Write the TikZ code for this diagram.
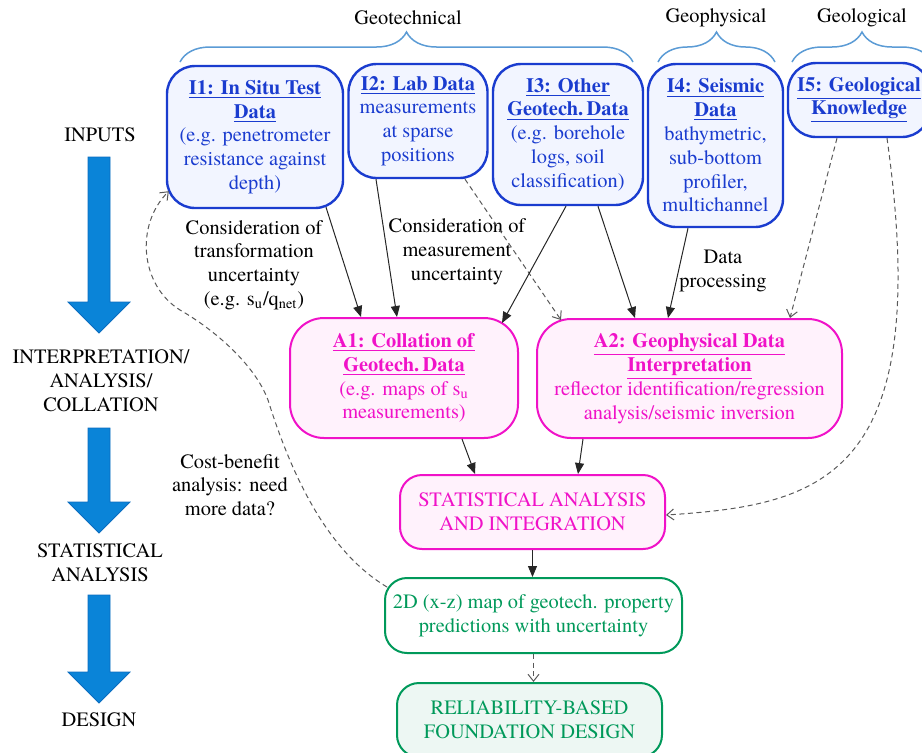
\documentclass[tikz,border=0pt]{standalone}
\usepackage{fontspec}
\setmainfont{TeX Gyre Termes}
\usetikzlibrary{arrows.meta,calc,decorations.pathreplacing}
\definecolor{iblue}{HTML}{1A3CCF}
\definecolor{ifill}{HTML}{F2F5FF}
\definecolor{amag}{HTML}{F012C8}
\definecolor{afill}{HTML}{FFF2FC}
\definecolor{sgreen}{HTML}{00995A}
\definecolor{gfill}{HTML}{EDF7F3}
\definecolor{bracec}{HTML}{5B9BD5}
\definecolor{bigblue}{HTML}{0A84D8}
\definecolor{bigedge}{HTML}{0A6CBF}
\newcommand\hd[1]{\underline{\textbf{#1}}}
\newcommand\flowarrow[3]{%
  \filldraw[bigarrow] (88,#1) -- (110,#1) -- (110,#2) -- (130,#2) -- (99,#3) -- (68,#2) -- (88,#2) -- cycle;}
\begin{document}
\begin{tikzpicture}[x=0.5pt,y=-0.5pt,
  every node/.style={font=\rmfamily\fontsize{10.2}{11.9}\selectfont, align=center, inner sep=0pt},
  ibox/.style={draw=iblue, fill=ifill, text=iblue, line width=1.2pt, rounded corners=14pt},
  abox/.style={draw=amag, fill=afill, text=amag, line width=1pt, rounded corners=17pt},
  sbox/.style={draw=amag, fill=afill, text=amag, line width=1pt, rounded corners=11pt},
  gbox/.style={draw=sgreen, fill=white, text=sgreen, line width=1pt, rounded corners=11pt},
  rbox/.style={draw=sgreen, fill=gfill, text=sgreen, line width=1pt, rounded corners=11pt},
  flow/.style={draw=black!85, line width=0.5pt, -{Triangle[length=5.5pt,width=4.5pt]}},
  dflow/.style={draw=black!65, line width=0.5pt, dash pattern=on 2.5pt off 1.8pt, -{Straight Barb[length=3.5pt,width=5.5pt]}},
  bracedec/.style={draw=bracec, line width=0.75pt, decorate, decoration={brace, amplitude=15pt}},
  bigarrow/.style={fill=bigblue, draw=bigedge, line width=0.4pt},
  lbl/.style={text=black}]
\useasboundingbox (0,0) rectangle (922,752);

% braces and group labels
\draw[bracedec] (180,62) -- (633,62);
\draw[bracedec] (658,62) -- (775,62);
\draw[bracedec] (792,62) -- (932,62);
\node[lbl] (gtech) at (408,18) {Geotechnical};
\node[lbl] (gphys) at (716,18) {Geophysical};
\node[lbl] (glog) at (862,18) {Geological};

% left stage column
\node[lbl] (sIn) at (100,135) {INPUTS};
\node[lbl] (sInt) at (101,381) {INTERPRETATION/\\ANALYSIS/\\COLLATION};
\node[lbl] (sStat) at (100,563) {STATISTICAL\\ANALYSIS};
\node[lbl] (sDes) at (99,720) {DESIGN};
\flowarrow{157}{302}{333}
\flowarrow{428}{502}{533}
\flowarrow{595}{672}{703}

% input boxes
\node[ibox, minimum width=88pt, minimum height=71pt] (I1) at (255,137)
  {\hd{I1: In Situ Test}\\\hd{Data}\\(e.g. penetrometer\\resistance against\\depth)};
\node[ibox, minimum width=69.5pt, minimum height=57pt] (I2) at (418,121)
  {\hd{I2: Lab Data}\\measurements\\at sparse\\positions};
\node[ibox, minimum width=75pt, minimum height=70.5pt] (I3) at (568,134.5)
  {\hd{I3: Other}\\\hd{Geotech.\,Data}\\(e.g. borehole\\logs, soil\\classification)};
\node[ibox, minimum width=67.5pt, minimum height=81.5pt] (I4) at (715.5,145.5)
  {\hd{I4: Seismic}\\\hd{Data}\\bathymetric,\\sub-bottom\\profiler,\\multichannel};
\node[ibox, minimum width=71pt, minimum height=37pt] (I5) at (859,100)
  {\hd{I5: Geological}\\\hd{Knowledge}};

% analysis boxes
\node[abox, minimum width=114pt, minimum height=60pt] (A1) at (404,378)
  {\hd{A1: Collation of}\\\hd{Geotech.\,Data}\\(e.g. maps of s\textsubscript{u}\\measurements)};
\node[abox, minimum width=152.5pt, minimum height=59.5pt] (A2) at (689.5,378.5)
  {\hd{A2: Geophysical Data}\\\hd{Interpretation}\\reflector identification/regression\\analysis/seismic inversion};
\node[sbox, minimum width=132.5pt, minimum height=37pt] (ST) at (532.5,512)
  {STATISTICAL ANALYSIS\\AND INTEGRATION};
\node[gbox, minimum width=148.5pt, minimum height=37.5pt] (MAP) at (533.5,615.5)
  {2D (x-z) map of geotech. property\\predictions with uncertainty};
\node[rbox, minimum width=132.5pt, minimum height=37pt] (REL) at (529.5,720)
  {RELIABILITY-BASED\\FOUNDATION DESIGN};

% connector labels
\node[lbl] (t1) at (254,265) {Consideration of\\transformation\\uncertainty\\(e.g. s\textsubscript{u}/q\textsubscript{net})};
\node[lbl] (t2) at (457,252) {Consideration of\\measurement\\uncertainty};
\node[lbl] (t3) at (723,271) {Data\\processing};
\node[lbl] (t4) at (230,485) {Cost-benefit\\analysis: need\\more data?};

% connectors
\draw[flow] ($(I1.south)+(71,-2)$) -- ($(A1.north)+(-43,0)$);
\draw[flow] ($(I2.south)+(-42,0)$) -- ($(A1.north)+(-7,0)$);
\draw[dflow] ($(I2.south)+(47,0)$) -- ($(A2.north)+(-128.5,2)$);
\draw[flow] ($(I3.south)+(-2,0)$) -- ($(A1.north)+(98,6)$);
\draw[flow] ($(I3.south)+(30,0)$) -- ($(A2.north)+(-54.5,0)$);
\draw[flow] ($(I4.south)+(-27.5,0)$) -- ($(A2.north)+(-21.5,0)$);
\draw[dflow] ($(I5.south)+(-22,0)$) -- ($(A2.north)+(100.5,0)$);
\draw[dflow] ($(I5.south)+(28,0)$) .. controls (935,480) and (820,505) .. ($(ST.east)+(0,3)$);
\draw[flow] ($(A1.south)+(58,0)$) -- ($(ST.north)+(-57.5,0)$);
\draw[flow] ($(A2.south)+(-106.5,0)$) -- ($(ST.north)+(45.5,0)$);
\draw[flow] (ST.south) -- (ST.south |- MAP.north);
\draw[dflow] (MAP.south) -- (MAP.south |- REL.north);
\coordinate (bend1) at (268,400);
\coordinate (bend2) at (180,310);
\draw[dflow] ($(MAP.north west)+(3,10)$) .. controls (325,550) and (290,470) .. (bend1)
  .. controls (255,365) and (215,330) .. (bend2)
  .. controls (140,285) and (135,225) .. ($(I1.south west)+(3,-18)$);
\end{tikzpicture}
\end{document}
